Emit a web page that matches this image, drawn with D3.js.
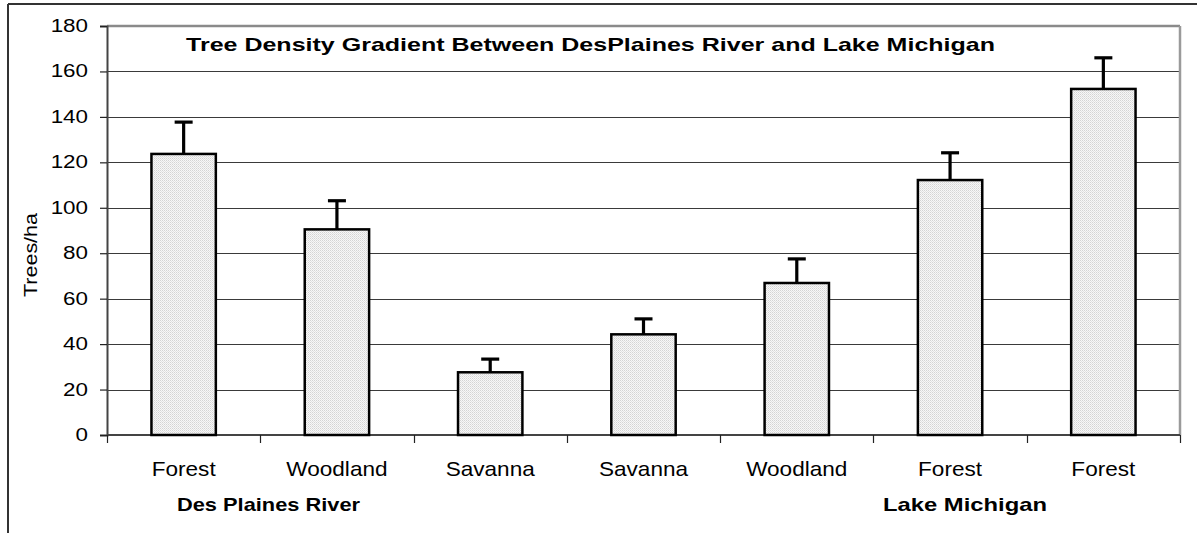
<!DOCTYPE html>
<html>
<head>
<meta charset="utf-8">
<script src="https://cdn.jsdelivr.net/npm/d3@7"></script>
<style>
  html, body { margin: 0; padding: 0; background: #fff; }
  svg { display: block; font-family: Arial, "Liberation Sans", sans-serif; }
</style>
</head>
<body>
<svg id="chart" width="1199" height="533"></svg>
<script>
// ---- data ----
const categories = ["Forest", "Woodland", "Savanna", "Savanna", "Woodland", "Forest", "Forest"];
const values = [123.7, 90.5, 27.6, 44.3, 66.9, 112.2, 152.3];
const errors = [14, 12.6, 5.8, 6.8, 10.6, 12, 13.7];
const yTicks = [0, 20, 40, 60, 80, 100, 120, 140, 160, 180];
const groupLabels = ["Des Plaines River", "Lake Michigan"];
const titleText = "Tree Density Gradient Between DesPlaines River and Lake Michigan";
const yTitle = "Trees/ha";

// ---- layout ----
const W = 1199, H = 533;
const plot = { left: 107, right: 1180, top: 26, bottom: 435 };
const svg = d3.select("#chart");

const defs = svg.append("defs");
const pat = defs.append("pattern").attr("id", "dots")
  .attr("patternUnits", "userSpaceOnUse").attr("width", 2).attr("height", 2);
pat.append("rect").attr("width", 2).attr("height", 2).attr("fill", "#f7f7f7");
pat.append("rect").attr("x", 0).attr("y", 0).attr("width", 1).attr("height", 1).attr("fill", "#d4d4d4");
pat.append("rect").attr("x", 1).attr("y", 1).attr("width", 1).attr("height", 1).attr("fill", "#e2e2e2");

const idx = d3.range(categories.length);
const x = d3.scaleBand().domain(idx).range([plot.left, plot.right]).padding(0);
const y = d3.scaleLinear().domain([0, 180]).range([plot.bottom, plot.top]);

// outer border (top & left visible)
svg.append("line").attr("x1", 8).attr("x2", 1197).attr("y1", 4).attr("y2", 4)
  .attr("stroke", "#333").attr("stroke-width", 2);
svg.append("line").attr("x1", 8).attr("x2", 8).attr("y1", 4).attr("y2", H)
  .attr("stroke", "#333").attr("stroke-width", 2);

// gridlines
svg.append("g").selectAll("line").data(yTicks.filter(d => d > 0 && d < 180)).join("line")
  .attr("x1", plot.left).attr("x2", plot.right)
  .attr("y1", d => Math.round(y(d)) + 0.5).attr("y2", d => Math.round(y(d)) + 0.5)
  .attr("stroke", "#3a3a3a").attr("stroke-width", 1.2);

// plot frame top and right (gray)
svg.append("line").attr("x1", plot.left).attr("x2", plot.right).attr("y1", plot.top).attr("y2", plot.top)
  .attr("stroke", "#8a8a8a").attr("stroke-width", 2.5);
svg.append("line").attr("x1", plot.right).attr("x2", plot.right).attr("y1", plot.top).attr("y2", plot.bottom)
  .attr("stroke", "#9a9a9a").attr("stroke-width", 2.5);

// y axis
const yAxis = d3.axisLeft(y).tickValues(yTicks).tickSize(7).tickFormat("");
const ya = svg.append("g").attr("transform", `translate(${plot.left},0)`).call(yAxis);
ya.select(".domain").attr("stroke", "#444").attr("stroke-width", 2);
ya.selectAll(".tick line").attr("stroke", "#222").attr("stroke-width", 1.2);

// y tick labels (horizontally stretched like the original)
svg.append("g").selectAll("text").data(yTicks).join("text")
  .attr("transform", d => `translate(88,${y(d) + 6}) scale(1.28,1)`)
  .attr("text-anchor", "end").attr("font-size", 17.5).attr("fill", "#000")
  .text(d => d);

// x axis
const xEdges = idx.map(i => x(i)).concat([plot.right]);
const xa = svg.append("g");
xa.append("line").attr("x1", plot.left).attr("x2", plot.right).attr("y1", plot.bottom).attr("y2", plot.bottom)
  .attr("stroke", "#444").attr("stroke-width", 2);
xa.selectAll("line.tk").data(xEdges).join("line").attr("class", "tk")
  .attr("x1", d => Math.round(d) + 0.5).attr("x2", d => Math.round(d) + 0.5)
  .attr("y1", plot.bottom).attr("y2", plot.bottom + 8)
  .attr("stroke", "#222").attr("stroke-width", 1.2);

// bars
const barW = x.bandwidth() * 0.42;
const cx = i => x(i) + x.bandwidth() / 2;
svg.append("g").selectAll("rect").data(idx).join("rect")
  .attr("x", i => cx(i) - barW / 2).attr("width", barW)
  .attr("y", i => y(values[i])).attr("height", i => y(0) - y(values[i]))
  .attr("fill", "url(#dots)").attr("stroke", "#000").attr("stroke-width", 2.5);

// error bars
const eb = svg.append("g").attr("stroke", "#000").attr("stroke-width", 3.2);
eb.selectAll("line.v").data(idx).join("line").attr("class", "v")
  .attr("x1", cx).attr("x2", cx)
  .attr("y1", i => y(values[i])).attr("y2", i => y(values[i] + errors[i]));
eb.selectAll("line.c").data(idx).join("line").attr("class", "c")
  .attr("x1", i => cx(i) - 9).attr("x2", i => cx(i) + 9)
  .attr("y1", i => y(values[i] + errors[i])).attr("y2", i => y(values[i] + errors[i]));

// category labels
svg.append("g").selectAll("text").data(idx).join("text")
  .attr("transform", i => `translate(${cx(i)},476) scale(1.13,1)`)
  .attr("text-anchor", "middle").attr("font-size", 20).attr("fill", "#000")
  .text(i => categories[i]);

// group labels
const groupPos = [{ x: 177, len: 183 }, { x: 883, len: 164 }];
svg.append("g").selectAll("text").data(groupLabels).join("text")
  .attr("x", (d, i) => groupPos[i].x).attr("y", 511)
  .attr("textLength", (d, i) => groupPos[i].len).attr("lengthAdjust", "spacingAndGlyphs")
  .attr("font-size", 19).attr("font-weight", "bold").attr("fill", "#000")
  .text(d => d);

// title
svg.append("text").attr("x", 186).attr("y", 51)
  .attr("textLength", 809).attr("lengthAdjust", "spacingAndGlyphs")
  .attr("font-size", 18.5).attr("font-weight", "bold").attr("fill", "#000")
  .text(titleText);

// y axis title
svg.append("text").attr("transform", "translate(37,255) rotate(-90)")
  .attr("text-anchor", "middle").attr("font-size", 19)
  .attr("textLength", 84).attr("lengthAdjust", "spacingAndGlyphs")
  .attr("fill", "#000").text(yTitle);
</script>
</body>
</html>
